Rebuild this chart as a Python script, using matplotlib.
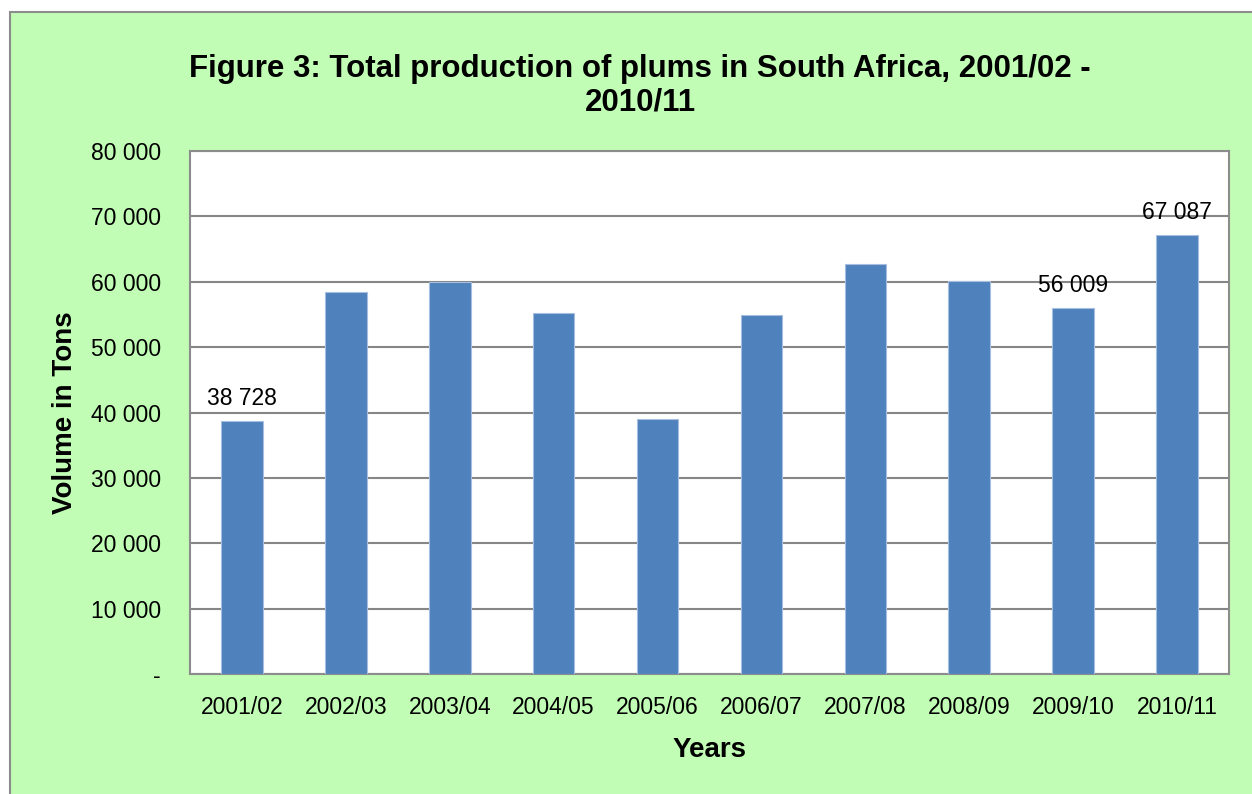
import matplotlib.pyplot as plt
from matplotlib.patches import Rectangle

plt.rcParams['font.family'] = ['Liberation Sans', 'DejaVu Sans']

years = ['2001/02', '2002/03', '2003/04', '2004/05', '2005/06',
         '2006/07', '2007/08', '2008/09', '2009/10', '2010/11']
volumes = [38728, 58390, 59920, 55220, 38960, 54920, 62760, 60050, 56009, 67087]
labelled = {0: '38 728', 8: '56 009', 9: '67 087'}
ytick_vals = [0, 10000, 20000, 30000, 40000, 50000, 60000, 70000, 80000]
ytick_text = ['-', '10 000', '20 000', '30 000', '40 000', '50 000', '60 000', '70 000', '80 000']


def make_plot():
    fig = plt.figure(figsize=(12.52, 7.94), dpi=100)
    fig.patch.set_facecolor('white')
    # green chart area with grey border
    bg = Rectangle((10 / 1252, -0.05), 1.1, 1 - 12 / 794 + 0.05, transform=fig.transFigure,
                   facecolor='#c1fdb5', edgecolor='#8c8c8c', linewidth=1.5, zorder=-5)
    fig.patches.append(bg)

    ax = fig.add_axes([190 / 1252, 1 - 674 / 794, (1229 - 190) / 1252, (674 - 151) / 794])
    ax.set_facecolor('white')
    x = range(len(years))
    ax.bar(x, volumes, width=0.4, color='#4f81bd', edgecolor='#a6bedf', linewidth=0.8, zorder=3)
    for i, txt in labelled.items():
        ax.annotate(txt, (i, volumes[i]), xytext=(0, 8), textcoords='offset points',
                    ha='center', va='bottom', fontsize=16.5)

    ax.set_xlim(-0.5, len(years) - 0.5)
    ax.set_ylim(0, 80000)
    ax.set_yticks(ytick_vals)
    ax.set_yticklabels(ytick_text)
    ax.set_xticks(list(x))
    ax.set_xticklabels(years)
    ax.tick_params(axis='y', length=0, pad=21, labelsize=16.5)
    ax.tick_params(axis='x', length=0, pad=16, labelsize=16.5)
    ax.yaxis.grid(True, color='#868686', linewidth=1.5, zorder=1)
    ax.set_axisbelow(True)
    for s in ax.spines.values():
        s.set_color('#8c8c8c')
        s.set_linewidth(1.5)

    ax.set_ylabel('Volume in Tons', fontsize=20, fontweight='bold', labelpad=9)
    ax.set_xlabel('Years', fontsize=20, fontweight='bold', labelpad=13)
    fig.text(640 / 1252, 1 - 86 / 794,
             'Figure 3: Total production of plums in South Africa, 2001/02 -\n2010/11',
             ha='center', va='center', fontsize=22.5, fontweight='bold', linespacing=1.15)

    fig.savefig('out.png', dpi=100, facecolor=fig.get_facecolor())


if __name__ == '__main__':
    make_plot()
